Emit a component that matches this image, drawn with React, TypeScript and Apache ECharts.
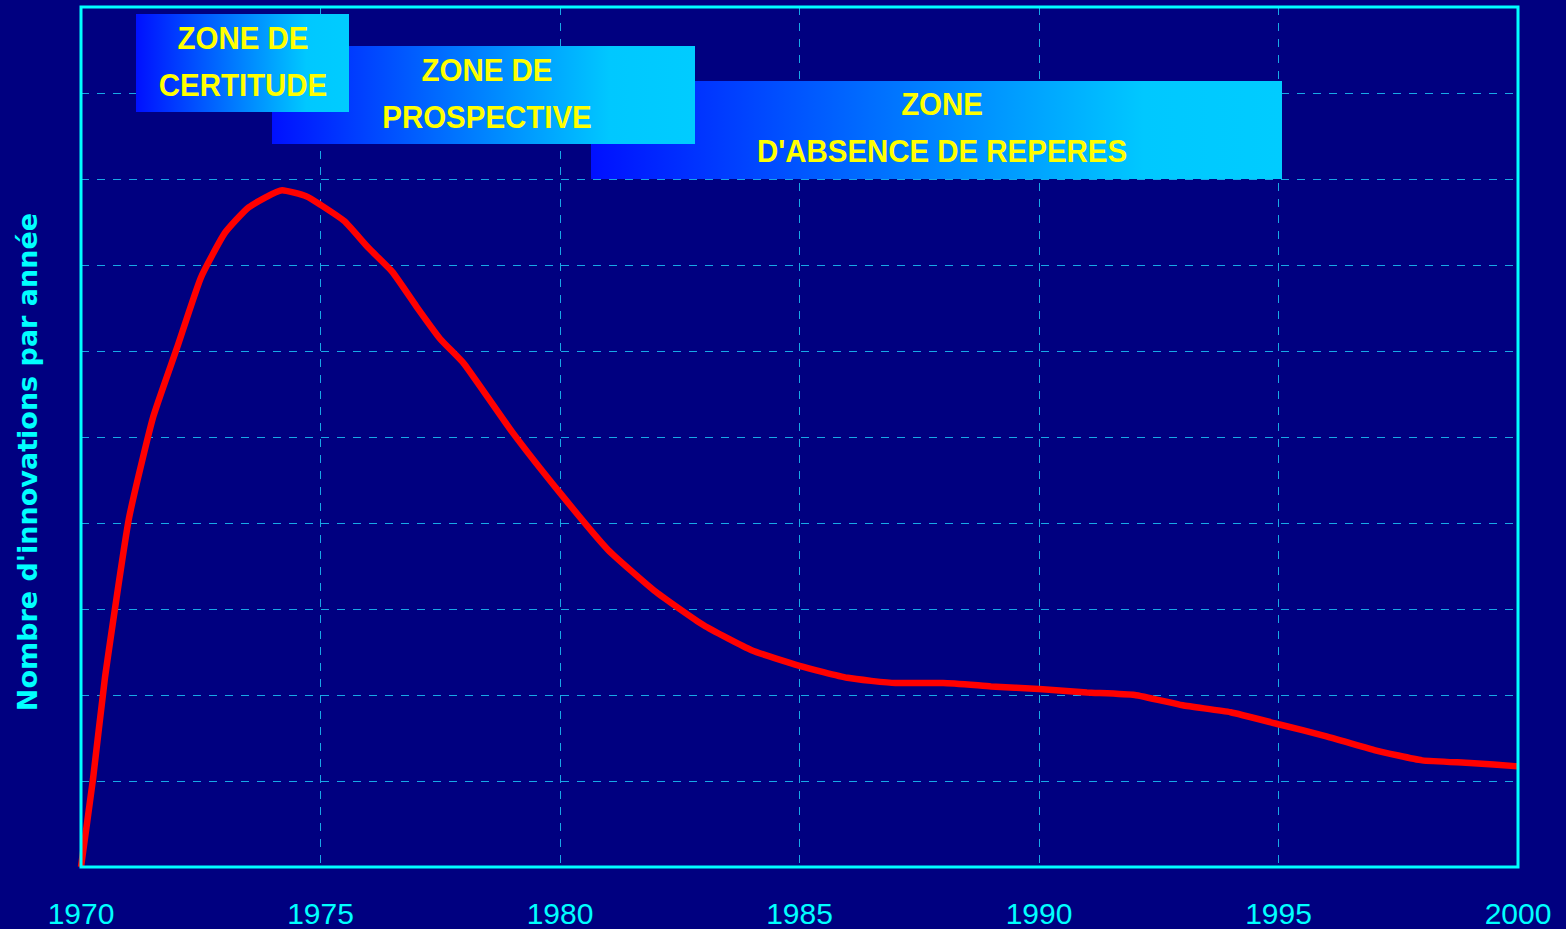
import React, { useEffect, useRef } from "react";
import * as echarts from "echarts";

const years = [
  1970, 1970.25, 1970.5, 1971, 1971.5, 1972, 1972.5, 1973, 1973.5, 1974.2, 1974.7,
  1975, 1975.5, 1976, 1976.5, 1977, 1977.5, 1978, 1979, 1980, 1981, 1982, 1983,
  1984, 1985, 1986, 1987, 1988, 1989, 1990, 1991, 1992, 1993, 1994, 1995, 1996,
  1997, 1998, 1999, 2000,
];
const innovations = [
  0, 1.02, 2.2, 4.05, 5.22, 6.03, 6.85, 7.37, 7.67, 7.87, 7.8,
  7.7, 7.51, 7.2, 6.92, 6.52, 6.14, 5.85, 5.06, 4.35, 3.69, 3.2, 2.81,
  2.52, 2.34, 2.2, 2.14, 2.14, 2.1, 2.07, 2.03, 2.0, 1.88, 1.8, 1.66, 1.52,
  1.36, 1.24, 1.21, 1.17,
];
const xTicks = { min: 1970, max: 2000, step: 5 };
const yTicks = { min: 0, max: 10, step: 1 };
const yTitle = "Nombre d'innovations par année";
const zoneLabels = [
  "ZONE\nD'ABSENCE DE REPERES",
  "ZONE DE\nPROSPECTIVE",
  "ZONE DE\nCERTITUDE",
];

export default function App() {
  const ref = useRef<HTMLDivElement>(null);
  useEffect(() => {
    if (!ref.current) return;
    const chart = echarts.init(ref.current, null, { renderer: "svg" });
    const grad = () =>
      new echarts.graphic.LinearGradient(0, 0, 1, 0, [
        { offset: 0, color: "#0010FF" },
        { offset: 0.8, color: "#00C8FF" },
        { offset: 1, color: "#00CCFF" },
      ]);
    const boxes = [
      { x: 591, y: 81, w: 691, h: 98, tx: 942, ty: 104 },
      { x: 272, y: 46, w: 423, h: 98, tx: 487, ty: 70 },
      { x: 136, y: 14, w: 213, h: 98, tx: 243, ty: 38 },
    ];
    const graphic: any[] = [];
    boxes.forEach((b, i) => {
      graphic.push({
        type: "rect",
        shape: { x: b.x, y: b.y, width: b.w, height: b.h },
        style: { fill: grad() },
        z: 10 + i * 2,
      });
      graphic.push({
        type: "text",
        x: b.tx,
        y: b.ty - 23.5,
        scaleX: 0.92,
        style: {
          text: zoneLabels[i],
          x: 0,
          y: 0,
          align: "center",
          verticalAlign: "top",
          fill: "#FFFF00",
          font: "bold 32px 'Liberation Sans', Arial, sans-serif",
          lineHeight: 47,
        },
        z: 11 + i * 2,
      });
    });
    graphic.push({
      type: "text",
      x: 27,
      y: 462,
      rotation: Math.PI / 2,
      style: {
        text: yTitle,
        x: 0,
        y: 0,
        align: "center",
        verticalAlign: "middle",
        fill: "#00FFFF",
        font: "bold 27px 'DejaVu Sans', sans-serif",
      },
      z: 20,
    });
    chart.setOption({
      animation: false,
      backgroundColor: "#000080",
      grid: {
        left: 81,
        top: 7,
        right: 48,
        bottom: 62,
        show: true,
        borderColor: "#00FFFF",
        borderWidth: 3,
        backgroundColor: "transparent",
        z: 5,
      },
      xAxis: {
        type: "value",
        min: xTicks.min,
        max: xTicks.max,
        interval: xTicks.step,
        axisLine: { show: false },
        axisTick: { show: false },
        axisLabel: {
          color: "#00FFFF",
          fontSize: 30,
          fontFamily: "'Liberation Sans', Arial, sans-serif",
          margin: 31,
          formatter: (v: number) => String(v),
        },
        splitLine: {
          show: true,
          lineStyle: { color: "#18A8E6", type: [8, 8], width: 1 },
        },
      },
      yAxis: {
        type: "value",
        min: yTicks.min,
        max: yTicks.max,
        interval: yTicks.step,
        axisLine: { show: false },
        axisTick: { show: false },
        axisLabel: { show: false },
        splitLine: {
          show: true,
          lineStyle: { color: "#18A8E6", type: [8, 8], width: 1 },
        },
      },
      series: [
        {
          type: "line",
          data: years.map((y, i) => [y, innovations[i]]),
          showSymbol: false,
          smooth: 0.15,
          lineStyle: { color: "#FF0000", width: 6.5 },
          z: 3,
        },
      ],
      graphic,
    });
    return () => chart.dispose();
  }, []);
  return (
    <div
      ref={ref}
      style={{ position: "absolute", left: 0, top: 0, width: 1566, height: 929 }}
    />
  );
}
